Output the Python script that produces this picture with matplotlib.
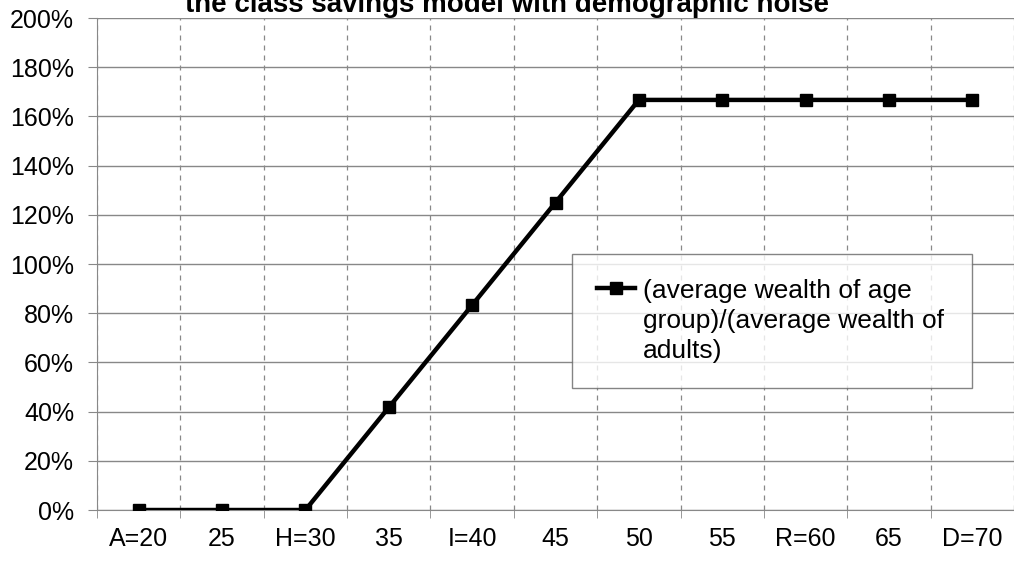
import matplotlib.pyplot as plt
from matplotlib.ticker import FixedLocator, PercentFormatter

plt.rcParams["font.family"] = ["Liberation Sans", "DejaVu Sans"]

age_labels = ["A=20", "25", "H=30", "35", "I=40", "45", "50", "55", "R=60", "65", "D=70"]
# relative wealth of age group, in percent
wealth_pct = [0, 0, 0, 41.7, 83.3, 125.0, 166.7, 166.7, 166.7, 166.7, 166.7]
series_label = "(average wealth of age\ngroup)/(average wealth of\nadults)"
title = "the class savings model with demographic noise"

fig = plt.figure(figsize=(10.14, 5.65), dpi=100)
ax = fig.add_axes([97 / 1014, 55 / 565, 917 / 1014, 492 / 565])

x = list(range(len(age_labels)))
ax.plot(x, wealth_pct, color="black", lw=3.2, marker="s", markersize=9,
        label=series_label, zorder=3)

ax.set_xlim(-0.5, len(age_labels) - 0.5)
ax.set_ylim(0, 200)
ax.set_yticks(range(0, 201, 20))
ax.yaxis.set_major_formatter(PercentFormatter(decimals=0))
ax.set_xticks(x)
ax.set_xticklabels(age_labels)
ax.xaxis.set_minor_locator(FixedLocator([i + 0.5 for i in range(-1, len(age_labels))]))

ax.grid(axis="y", which="major", color="#888888", lw=1)
ax.grid(axis="x", which="minor", color="#888888", lw=0.9, ls=(0, (4, 4)))
ax.tick_params(axis="x", which="major", length=0, labelsize=18, pad=12)
ax.tick_params(axis="x", which="minor", length=6, color="#888888")
ax.tick_params(axis="y", length=6.5, color="#888888", labelsize=18, pad=10)

for side in ["top", "right"]:
    ax.spines[side].set_visible(False)
for side in ["left", "bottom"]:
    ax.spines[side].set_color("#888888")

# legend box spans a fixed width, like the spreadsheet original
leg = ax.legend(loc="upper left", mode="expand",
                bbox_to_anchor=(475 / 917, 0, 400 / 917, 256 / 492),
                frameon=True, fancybox=False, fontsize=19, handlelength=1.45,
                handletextpad=0.28, borderpad=0.95, borderaxespad=0)
leg.get_frame().set_edgecolor("#666666")
leg.get_frame().set_linewidth(1)
for txt in leg.get_texts():
    txt.set_linespacing(1.32)
# put the handle beside the first line of the label, not its middle
for column in leg._legend_handle_box.get_children():
    for row in column.get_children():
        row.align = "top"

fig.text(0.5, 1 - 12 / 565, title, ha="center", va="baseline",
         fontsize=20, fontweight="bold")

fig.savefig("out.png", dpi=100)
